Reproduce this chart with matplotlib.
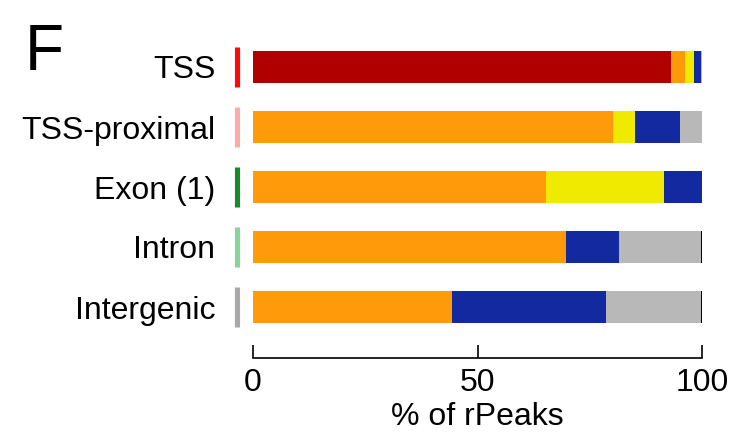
import matplotlib
matplotlib.use("Agg")
import matplotlib.pyplot as plt
import matplotlib.transforms as mtransforms
import numpy as np

plt.rcParams['font.family'] = ['Liberation Sans', 'DejaVu Sans']

categories = ["TSS", "TSS-proximal", "Exon (1)", "Intron", "Intergenic"]
indicator_colors = ["#ff0a0a", "#ffaaaa", "#178a2c", "#88d49a", "#a8a8a8"]
segment_colors = ["#b00000", "#ff9a0a", "#f0ea00", "#1229a0", "#b8b8b8", "#000000"]
seg_tss      = [93.1, 0.0, 0.0, 0.0, 0.0]
seg_orange   = [3.1, 80.2, 65.3, 69.7, 44.3]
seg_yellow   = [2.0, 4.9, 26.2, 0.0, 0.0]
seg_blue     = [1.5, 10.0, 8.5, 11.8, 34.3]
seg_gray     = [0.3, 4.9, 0.0, 18.2, 21.1]
seg_black    = [0.0, 0.0, 0.0, 0.3, 0.3]
series = [seg_tss, seg_orange, seg_yellow, seg_blue, seg_gray, seg_black]
xticks = [0, 50, 100]
xlabel = "% of rPeaks"
panel = "F"

W, H = 733, 437
fig = plt.figure(figsize=(W / 100, H / 100), dpi=100)
ax = fig.add_axes([253 / W, (H - 358) / H, 449.3 / W, 327 / H])

y = np.arange(len(categories))
left = np.zeros(len(categories))
for vals, col in zip(series, segment_colors):
    vals = np.array(vals)
    ax.barh(y, vals, left=left, height=0.52, color=col, edgecolor='none', linewidth=0)
    left += vals

ax.set_xlim(0, 100)
ax.set_ylim(4.85, -0.6)

# indicator strips
trans = mtransforms.blended_transform_factory(ax.transAxes, ax.transData)
for yi, c in zip(y, indicator_colors):
    ax.plot([-0.0345, -0.0345], [yi - 0.33, yi + 0.33], color=c, lw=3.7,
            solid_capstyle='butt', transform=trans, clip_on=False)

ax.set_yticks(y)
ax.set_yticklabels(categories, fontsize=23)
ax.tick_params(axis='y', length=0, pad=27)

ax.set_xticks(xticks)
ax.set_xticklabels([str(t) for t in xticks], fontsize=23)
ax.tick_params(axis='x', direction='in', length=9.5, width=1.2, pad=7)

for s in ['top', 'right', 'left']:
    ax.spines[s].set_visible(False)
ax.spines['bottom'].set_linewidth(1.2)
ax.spines['bottom'].set_bounds(0, 100)

ax.set_xlabel(xlabel, fontsize=23, labelpad=3)

fig.text(25 / W, (H - 70) / H, panel, fontsize=46, ha='left', va='baseline')

fig.savefig("out.png", dpi=100)
